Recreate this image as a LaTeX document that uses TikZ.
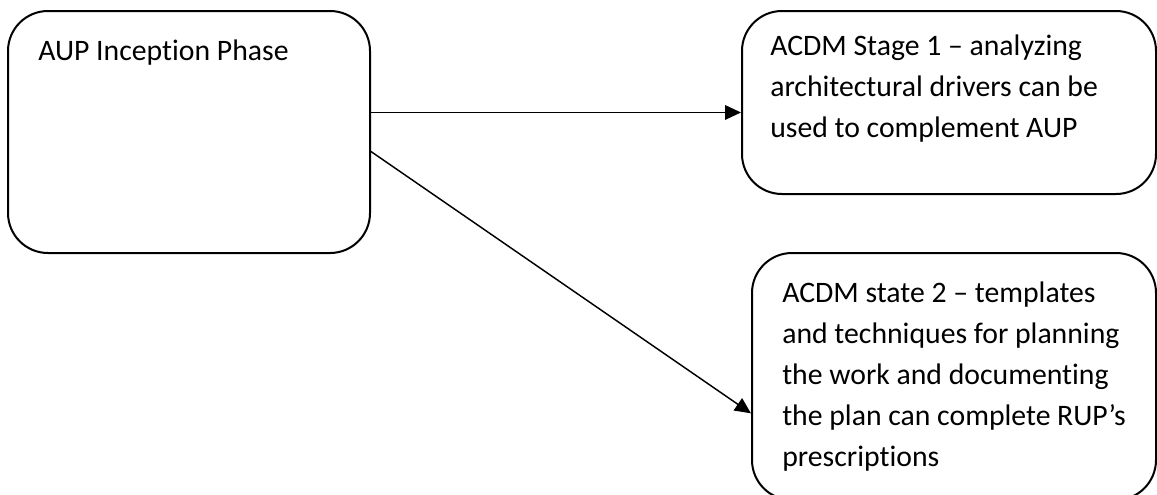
\documentclass[tikz,border=0pt]{standalone}
\usepackage{fontspec}
\setmainfont{Carlito}[Ligatures=NoCommon]
\usetikzlibrary{arrows.meta,calc}

\tikzset{
  phase/.style={draw, line width=1.5pt, rounded corners=30pt, inner sep=0pt},
  note/.style={anchor=base west, inner sep=0pt, align=left,
    font=\fontsize{22.3}{30.75}\selectfont},
  flow/.style={line width=1.1pt, -{Triangle[length=12pt,width=11pt]}}
}

\begin{document}
\begin{tikzpicture}[x=0.75pt, y=-0.75pt]
\useasboundingbox (0,0) rectangle (1157,494);
% the three boxes
\node[phase, minimum width=271.5pt, minimum height=181.5pt] (aup) at (189,132) {};
\node[phase, minimum width=310.5pt, minimum height=137.25pt] (stage1) at (949,102.5) {};
\node[phase, minimum width=303pt, minimum height=185.25pt] (stage2) at (954,376.5) {};
% their texts (anchored at the last line)
\node[note] (aup text) at ([shift={(31,50)}]aup.north west) {AUP Inception Phase};
\node[note] (stage1 text) at ([shift={(29,127)}]stage1.north west)
  {ACDM Stage 1 – analyzing\\architectural drivers can be\\used to complement AUP};
\node[note] (stage2 text) at ([shift={(31,214)}]stage2.north west)
  {ACDM state 2 – templates\\and techniques for planning\\the work and documenting\\the plan can complete RUP’s\\prescriptions};
% connectors
\coordinate (out1) at ($(aup.north east)!0.42!(aup.south east)$);
\coordinate (out2) at ($(aup.north east)!0.58!(aup.south east)$);
\coordinate (in2) at ($(stage2.north west)!0.648!(stage2.south west)$);
\draw[flow] (out1) -- (out1 -| stage1.west);
\draw[flow] (out2) -- (in2);
\end{tikzpicture}
\end{document}
